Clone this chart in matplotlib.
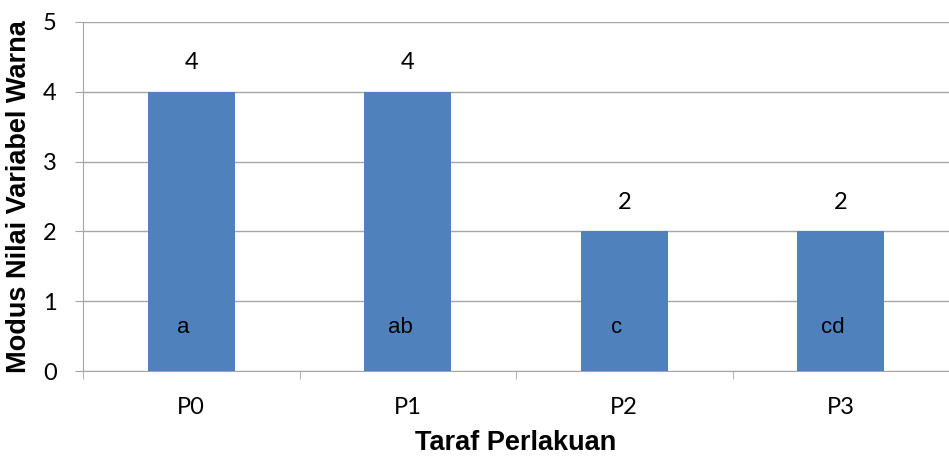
import numpy as np
import matplotlib.pyplot as plt

# Modus nilai warna per taraf perlakuan
perlakuan = ['P0', 'P1', 'P2', 'P3']
modus = [4, 4, 2, 2]
notasi = ['a', 'ab', 'c', 'cd']

bar_color = '#4f81bd'
grid_color = '#a6a6a6'

fig = plt.figure(figsize=(9.49, 4.57), dpi=100)
ax = fig.add_axes([83 / 949, (457 - 371) / 457, 866 / 949, 349 / 457])

x = np.arange(len(perlakuan))
ax.bar(x, modus, width=0.4, color=bar_color, zorder=3)

### Value labels above bars and notation letters inside
for xi, v, n in zip(x, modus, notasi):
    ax.text(xi, v + 0.42, str(v), ha='center', va='center',
            fontsize=17, family='Lato', color='black')
    ax.text(xi - 0.035, 0.63, n, ha='center', va='center',
            fontsize=16, family='Liberation Sans', color='black')

ax.set_ylim(0, 5)
ax.set_xlim(-0.5, -0.5 + 866 / 219)
ax.set_yticks(range(6))
ax.set_yticklabels([str(i) for i in range(6)], family='Lato', fontsize=17)
ax.set_xticks(x)
ax.set_xticklabels(perlakuan, family='Lato', fontsize=17)
ax.set_xticks(np.arange(-0.5, 4, 1), minor=True)

ax.yaxis.grid(True, color=grid_color, linewidth=1, zorder=0)
ax.tick_params(axis='x', which='major', length=0, pad=19)
ax.tick_params(axis='x', which='minor', length=6, color=grid_color, direction='out')
ax.tick_params(axis='y', length=6, color=grid_color, pad=13)

for s in ['top', 'right']:
    ax.spines[s].set_visible(False)
for s in ['left', 'bottom']:
    ax.spines[s].set_color(grid_color)

ax.set_ylabel('Modus Nilai Variabel Warna', family='Liberation Sans',
              fontweight='bold', fontsize=19.5, labelpad=8)
ax.set_xlabel('Taraf Perlakuan', family='Liberation Sans',
              fontweight='bold', fontsize=19.5, labelpad=8)

fig.savefig('out.png', dpi=100)
